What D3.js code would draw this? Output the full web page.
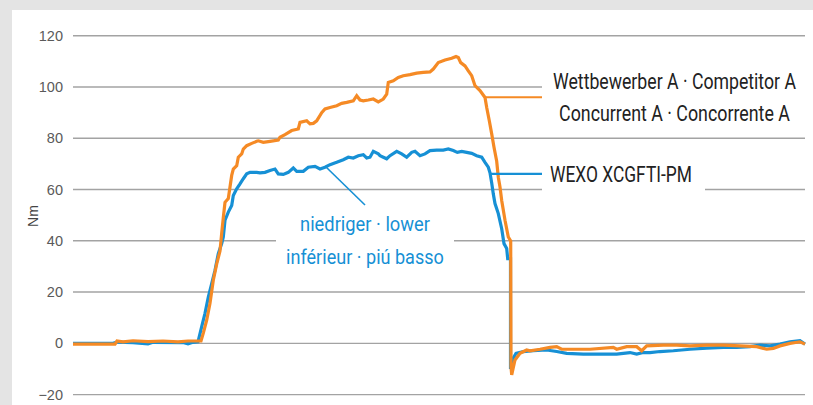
<!DOCTYPE html>
<html>
<head>
<meta charset="utf-8">
<script src="https://cdn.jsdelivr.net/npm/d3@7"></script>
<style>
  html, body { margin: 0; padding: 0; background: #e4e4e4; }
  svg { display: block; }
</style>
</head>
<body>
<svg id="chart" width="813" height="405"></svg>
<script>
// ---------------- DATA ----------------
const yTicks = [-20, 0, 20, 40, 60, 80, 100, 120];
const yLabel = "Nm";
const seriesNames = ["WEXO XCGFTI-PM", "Wettbewerber A · Competitor A", "Concurrent A · Concorrente A"];
const annotationLines = ["niedriger · lower", "inférieur · piú basso"];

// [sample, Nm]
const wexo = [
  [0,0],[40,0],[44,0.5],[60,0.3],[75,-0.2],[80,0.4],[110,0.3],[115,-0.2],[120,0.4],[125,0.6],
  [128.7,6.5],[132,11.7],[135.3,18],[138.7,23.3],[142,28.5],[145.3,35],[148.7,38.9],[150.3,41.5],
  [152,48],[155.3,51.2],[158.7,53.8],[160.3,57.7],[163.7,60.3],[167,62.2],[170.3,64.2],[173.7,66.1],
  [177,66.7],[183.7,66.7],[187,66.5],[192,66.7],[197,67.4],[202,68],[205.3,66.1],[210.3,65.9],
  [215.3,66.7],[220.3,68.4],[223.7,67.1],[230.3,67.1],[235.3,68.7],[242,69],[247,68],[252,68.7],
  [257,69.7],[263.7,70.6],[270.3,71.6],[275.3,72.6],[280.3,72.3],[285.3,73.2],[290.3,73.6],
  [293.7,72.3],[297,72.6],[300.3,74.9],[305.3,73.9],[307,73.2],[310.3,72.6],[313.7,72],[317,73.2],
  [323.7,74.9],[328.7,73.9],[333.7,72.6],[338.7,74.5],[342,74.9],[347,73.2],[352,73.9],[357,75.2],
  [363.7,75.4],[370.3,75.4],[375.3,75.8],[380.3,75.2],[384.3,74.5],[388.7,74.9],[393.7,74.5],
  [398.7,74.1],[403.7,73.2],[408.7,72.6],[412,70.6],[415.3,68.7],[417,66.5],[418.7,62.5],
  [420.3,58.3],[422,54.5],[425.3,50.6],[428.7,44.7],[431,38.9],[433.7,37],[434.7,33],[437.5,33],
  [437.5,-10],[440,-6],[443,-3.9],[450.3,-3.2],[460.3,-2.9],[473.7,-2.6],[483.7,-3.2],[493.7,-3.9],
  [510.3,-4.2],[527,-4.2],[543.7,-4.2],[550.3,-3.9],[557,-3.6],[563.7,-4.2],[570.3,-3.6],[577,-3.6],
  [587,-3.2],[600.3,-2.9],[617,-2.3],[633.7,-1.9],[650.3,-1.6],[663.7,-1.6],[677,-1.3],[687,-0.7],
  [697,-1],[707,-0.3],[717,0.6],[727,1],[732,-0.3]
];

const competitor = [
  [0,-0.3],[42,-0.3],[44,0.9],[50,0.6],[60,1.0],[75,0.7],[90,0.9],[105,0.6],[115,0.9],[128,0.9],
  [130.3,4],[133.7,9],[137,15.6],[140.3,24.6],[143.7,31],[147,36],[148.7,43],[150.3,49],[152,55],
  [155.3,56.5],[157,61],[158.7,65.5],[160.3,68],[163.7,69.3],[165.3,72.6],[168.7,73.9],[170.3,75.8],
  [173.7,77.1],[178.7,78],[183.7,78.8],[185.3,79],[190.3,78.4],[197,78.8],[205.3,79.3],[207,80.4],
  [212,81.4],[218.7,83],[225.3,83.6],[227,86.2],[233.7,86.8],[237,85.6],[240.3,85.8],[243.7,86.8],
  [248.7,90],[252,91.4],[257,92],[263.7,92.7],[268.7,93.6],[273.7,94],[280.3,94.6],[283.7,96.6],
  [287,94.9],[290.3,94.6],[295.3,94.9],[300.3,95.3],[305.3,94.2],[310.3,95.3],[313.7,97.2],
  [315.3,101.8],[320.3,102.4],[325.3,103.7],[330.3,104.4],[337,104.8],[343.7,105.4],[350.3,105.7],
  [357,105.9],[360.3,107],[365.3,109.5],[372,110.5],[378.7,111.2],[383,111.9],[385.3,111.5],
  [387.7,109.5],[392,108.2],[395.3,106.3],[398.7,104.4],[402,100.5],[407,98.6],[412,95.9],
  [413.7,92],[416.3,86.8],[418.7,81.7],[421,76.5],[423.7,71],[425.3,64.8],[427,61],[428.7,55.7],
  [432,48],[435.3,41.5],[437.7,39.9],[438,-9.1],[438.7,-12.3],[440,-10],[442,-6.5],[447,-3.9],
  [453.7,-2.6],[457,-2.9],[467,-2.3],[477,-1.6],[483.7,-1.3],[488.7,-2.3],[517,-2.3],[540.3,-1.6],
  [543.7,-2.3],[553.7,-1.3],[563.7,-1.3],[568.7,-2.9],[573.7,-1],[590.3,-0.7],[603.7,-0.7],
  [617,-1],[633.7,-0.7],[650.3,-0.7],[667,-1],[683.7,-1.3],[693.7,-2.3],[700.3,-2],[707,-1],
  [717,0],[727,0.6],[732,-0.3]
];

// where the label leaders leave the curves [sample, Nm]
const competitorLeaderAt = [413, 96];
const wexoLeaderAt = [417, 66.1];
const annotationAt = [253, 68.8];

// ---------------- LAYOUT ----------------
const svg = d3.select("#chart");
const W = 813, H = 405;
const plot = { left: 73, right: 805, top: 35.7, bottom: 394.6 };
const colors = { orange: "#f58a25", blue: "#1690d5", grid: "#a3a3a3", tick: "#5a5a5a", text: "#222" };

const x = d3.scaleLinear().domain([0, 732]).range([plot.left, plot.right]);
const y = d3.scaleLinear().domain([-20, 120]).range([plot.bottom, plot.top]);

svg.append("rect").attr("x", 12).attr("y", 10).attr("width", W - 12).attr("height", H - 10).attr("fill", "#fff");

const gaps = { 100: [[542, 806]], 60: [[542, 705]], 40: [[276, 454]] };

const yAxis = d3.axisLeft(y).tickValues(yTicks).tickSize(0).tickPadding(10).tickFormat(d3.format("d"));
const gAxis = svg.append("g").attr("transform", `translate(${plot.left},0)`).call(yAxis);
gAxis.select(".domain").remove();
gAxis.selectAll("text")
  .attr("fill", colors.tick)
  .style("font-family", "'Liberation Sans', Arial, sans-serif")
  .style("font-size", "14.5px");

const gridG = svg.append("g");
yTicks.forEach(t => {
  const g = gaps[t] || [];
  let segs = [];
  let start = plot.left;
  g.forEach(([a, b]) => { segs.push([start, a]); start = b; });
  if (start < plot.right) segs.push([start, plot.right]);
  segs.forEach(([a, b]) => {
    gridG.append("line")
      .attr("x1", a).attr("x2", b)
      .attr("y1", y(t)).attr("y2", y(t))
      .attr("stroke", colors.grid).attr("stroke-width", 1.4);
  });
});

svg.append("text")
  .attr("transform", `translate(33,216) rotate(-90)`)
  .attr("text-anchor", "middle")
  .attr("dominant-baseline", "central")
  .attr("fill", "#444")
  .style("font-family", "'Liberation Sans', Arial, sans-serif")
  .style("font-size", "14px")
  .text(yLabel);

const line = d3.line().x(d => x(d[0])).y(d => y(d[1])).curve(d3.curveLinear);

svg.append("path").datum(wexo)
  .attr("d", line).attr("fill", "none")
  .attr("stroke", colors.blue).attr("stroke-width", 3.2).attr("stroke-linejoin", "miter");

svg.append("path").datum(competitor)
  .attr("d", line).attr("fill", "none")
  .attr("stroke", colors.orange).attr("stroke-width", 3.2).attr("stroke-linejoin", "miter");

svg.append("line")
  .attr("x1", x(competitorLeaderAt[0])).attr("x2", 542)
  .attr("y1", y(competitorLeaderAt[1])).attr("y2", y(competitorLeaderAt[1]))
  .attr("stroke", colors.orange).attr("stroke-width", 2.2);
svg.append("line")
  .attr("x1", x(wexoLeaderAt[0])).attr("x2", 542)
  .attr("y1", y(wexoLeaderAt[1])).attr("y2", y(wexoLeaderAt[1]))
  .attr("stroke", colors.blue).attr("stroke-width", 2.2);
svg.append("line")
  .attr("x1", x(annotationAt[0])).attr("y1", y(annotationAt[1]))
  .attr("x2", 365).attr("y2", 205)
  .attr("stroke", colors.blue).attr("stroke-width", 1.6);

// condensed-looking labels: Roboto squeezed horizontally to the reference width
function label(txt, px, py, anchor, fill, size, width) {
  const g = svg.append("g");
  const t = g.append("text")
    .attr("x", 0).attr("y", 0)
    .attr("text-anchor", anchor)
    .attr("fill", fill)
    .style("font-family", "Roboto, 'Liberation Sans', sans-serif")
    .style("font-size", size + "px")
    .text(txt);
  const w = t.node().getComputedTextLength();
  const sx = width && w > 0 ? width / w : 1;
  g.attr("transform", `translate(${px},${py}) scale(${sx},1)`);
  return t;
}

label(seriesNames[1], 674.5, 88.5, "middle", colors.text, 21.5, 243);
label(seriesNames[2], 674.5, 120.5, "middle", colors.text, 21.5, 231);
label(seriesNames[0], 550, 181.5, "start", colors.text, 21.5, 142);

label(annotationLines[0], 365, 231, "middle", colors.blue, 20, 130);
label(annotationLines[1], 365, 264, "middle", colors.blue, 20, 158);
</script>
</body>
</html>
